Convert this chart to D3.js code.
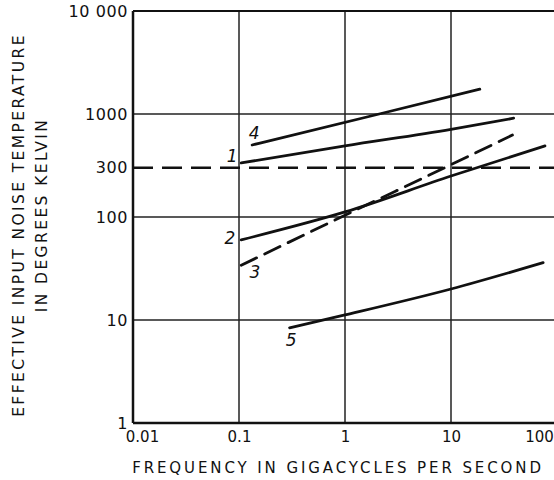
<!DOCTYPE html>
<html>
<head>
<meta charset="utf-8">
<script src="https://cdn.jsdelivr.net/npm/d3@7"></script>
<style>
  body { margin: 0; background: #fff; }
  svg text { font-family: "DejaVu Sans", "Liberation Sans", sans-serif; fill: #111; }
</style>
</head>
<body>
<svg id="chart" width="554" height="480"></svg>
<script>
// data (frequency in GHz, temperature in K)
const curve1 = [[0.105, 335], [1, 490], [10, 710], [39, 910]];
const curve2 = [[0.105, 60], [1, 112], [10, 250], [77, 490]];
const curve3 = [[0.105, 34], [1, 104], [10, 322], [38, 625]];
const curve4 = [[0.133, 500], [2.1, 1000], [18.7, 1740]];
const curve5 = [[0.3, 8.4], [1, 11.2], [10, 20], [74, 36]];
const curveNames = ["1", "2", "3", "4", "5"];
const curveLabelAt = [[0.086, 342], [0.082, 55], [0.141, 25.6], [0.139, 571], [0.31, 5.6]];
const refTemp = 300;

const xTicks = [0.01, 0.1, 1, 10, 100];
const xTickLabels = ["0.01", "0.1", "1", "10", "100"];
const yTicks = [1, 10, 100, 300, 1000, 10000];
const yTickLabels = ["1", "10", "100", "300", "1000", "10 000"];
const xGrid = [0.1, 1, 10];
const yGrid = [10, 100, 1000];

const svg = d3.select("#chart");

const x = d3.scaleLog().domain([0.01, 100]).range([133, 557]);
const y = d3.scaleLog().domain([1, 10000]).range([423, 11]);

// grid
svg.append("g").selectAll("line").data(xGrid).enter().append("line")
    .attr("x1", d => x(d)).attr("x2", d => x(d))
    .attr("y1", y(10000)).attr("y2", y(1))
    .attr("stroke", "#222").attr("stroke-width", 1.5);
svg.append("g").selectAll("line").data(yGrid).enter().append("line")
    .attr("x1", x(0.01)).attr("x2", 560)
    .attr("y1", d => y(d)).attr("y2", d => y(d))
    .attr("stroke", "#222").attr("stroke-width", 1.5);

// frame
svg.append("line").attr("x1", x(0.01)).attr("x2", 560).attr("y1", y(10000)).attr("y2", y(10000))
    .attr("stroke", "#111").attr("stroke-width", 2);
svg.append("line").attr("x1", x(0.01)).attr("x2", 560).attr("y1", y(1)).attr("y2", y(1))
    .attr("stroke", "#111").attr("stroke-width", 2.5);
svg.append("line").attr("x1", x(0.01)).attr("x2", x(0.01)).attr("y1", y(10000)).attr("y2", y(1))
    .attr("stroke", "#111").attr("stroke-width", 2.5);

// 300 K reference
svg.append("line")
    .attr("x1", x(0.01)).attr("x2", 560)
    .attr("y1", y(refTemp)).attr("y2", y(refTemp))
    .attr("stroke", "#111").attr("stroke-width", 2.5)
    .attr("stroke-dasharray", "20,9");

// axes labels
const yAxis = d3.axisLeft(y).tickValues(yTicks).tickSize(0).tickPadding(5)
    .tickFormat((d, i) => yTickLabels[i]);
svg.append("g").attr("transform", "translate(" + x(0.01) + ",0)").call(yAxis)
    .call(g => g.select(".domain").remove())
    .selectAll("text").style("font-size", "16px").attr("letter-spacing", "0.6px");

const xAxis = d3.axisBottom(x).tickValues(xTicks).tickSize(0).tickPadding(8)
    .tickFormat((d, i) => xTickLabels[i]);
svg.append("g").attr("transform", "translate(0," + y(1) + ")").call(xAxis)
    .call(g => g.select(".domain").remove())
    .selectAll("text").style("font-size", "15px")
    .attr("dx", (d, i) => i === 0 ? 9 : (i === 4 ? -18 : 0));

// curves
const line = d3.line().x(d => x(d[0])).y(d => y(d[1])).curve(d3.curveMonotoneX);
const curves = [curve1, curve2, curve3, curve4, curve5];
svg.append("g").selectAll("path").data(curves).enter().append("path")
    .attr("d", line)
    .attr("fill", "none")
    .attr("stroke", "#111")
    .attr("stroke-width", 2.8)
    .attr("stroke-linecap", "round")
    .attr("stroke-dasharray", (d, i) => i === 2 ? "17,9" : null);

svg.append("g").selectAll("text").data(curveLabelAt).enter().append("text")
    .attr("x", d => x(d[0])).attr("y", d => y(d[1]))
    .attr("text-anchor", "middle")
    .style("font-size", "17px").style("font-style", "italic")
    .text((d, i) => curveNames[i]);

// titles
svg.append("text")
    .attr("x", 338).attr("y", 473)
    .attr("text-anchor", "middle")
    .attr("letter-spacing", "2.9px")
    .style("font-size", "15px")
    .text("FREQUENCY IN GIGACYCLES PER SECOND");

svg.append("text")
    .attr("transform", "translate(24,225) rotate(-90)")
    .attr("text-anchor", "middle")
    .attr("letter-spacing", "2.4px")
    .style("font-size", "15.5px")
    .text("EFFECTIVE INPUT NOISE TEMPERATURE");
svg.append("text")
    .attr("transform", "translate(47,215) rotate(-90)")
    .attr("text-anchor", "middle")
    .attr("letter-spacing", "2.4px")
    .style("font-size", "15.5px")
    .text("IN DEGREES KELVIN");
</script>
</body>
</html>
